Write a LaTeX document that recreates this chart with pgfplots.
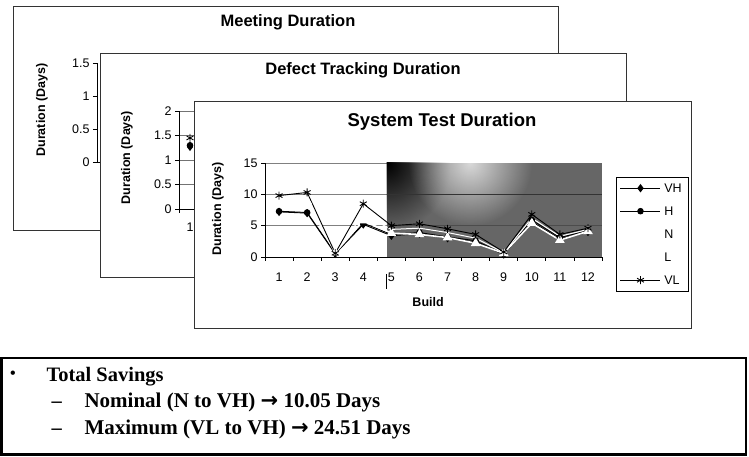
\documentclass[border=0pt]{standalone}
\usepackage{pgfplots}
\pgfplotsset{compat=1.18}
\usetikzlibrary{fadings}
\usepackage{fontspec}
\setmainfont{Liberation Sans}
\newfontfamily\tnr{Liberation Serif}
\newfontfamily\dvs{DejaVu Sans}

\tikzfading[name=softspot, inner color=transparent!0, outer color=transparent!100]

\pgfplotsset{
  /pgf/number format/assume math mode=true,
  tick label style={font=\fontsize{12.5}{14}\selectfont},
  label style={font=\bfseries\fontsize{12.5}{14}\selectfont},
}

\begin{document}
\begin{tikzpicture}[x=1pt,y=1pt]
\useasboundingbox (0,0) rectangle (749,457);
% ---------------- Meeting Duration (back) ----------------
\filldraw[fill=white, draw=black!80, line width=0.9pt] (13,451) rectangle (558,227);
\node[font=\bfseries\fontsize{16.5}{18}\selectfont] at (288,434.3) {Meeting Duration};
\node[rotate=90, font=\bfseries\fontsize{12.5}{14}\selectfont] at (42,347) {Duration (Days)};
\begin{axis}[at={(97pt,295pt)}, anchor=south west, scale only axis, width=300pt, height=99pt,
  xmin=0.5, xmax=12.5, ymin=0, ymax=1.5, axis lines*=left, xtick=\empty, ytick={0,0.5,1,1.5},
  tick align=outside, major tick length=4pt, tick style={black, line width=0.8pt},
  axis line style={black, line width=0.8pt}]
\end{axis}
% ---------------- Defect Tracking Duration (middle) ----------------
\filldraw[fill=white, draw=black!80, line width=0.9pt] (100,404) rectangle (626,180);
\node[font=\bfseries\fontsize{16.5}{18}\selectfont] at (363,387) {Defect Tracking Duration};
\node[rotate=90, font=\bfseries\fontsize{12.5}{14}\selectfont] at (127,299.5) {Duration (Days)};
\begin{axis}[at={(179pt,248pt)}, anchor=south west, scale only axis, width=264pt, height=98pt,
  xmin=0.5, xmax=12.5, ymin=0, ymax=2, axis lines*=left,
  xtick={0.5,1.5,...,12.5}, x tick label as interval, xticklabels={1},
  xticklabel style={yshift=-6pt},
  ytick={0,0.5,1,1.5,2}, ymajorgrids, grid style={black!55, line width=0.6pt},
  tick align=outside, major tick length=4pt, tick style={black, line width=0.8pt},
  axis line style={black, line width=0.8pt}]
\addplot[black, line width=0.9pt, mark=diamond*, mark size=3.5pt] coordinates {(1,1.27)};
\addplot[black, line width=0.9pt, mark=*, mark size=2.8pt] coordinates {(1,1.30)};
\addplot[black, line width=0.9pt, mark=asterisk, mark size=4pt] coordinates {(1,1.45)};
\end{axis}
% ---------------- System Test Duration (front) ----------------
\filldraw[fill=white, draw=black!80, line width=0.9pt] (194,356) rectangle (691,129);
\node[font=\bfseries\fontsize{18.5}{20}\selectfont] at (442,335.3) {System Test Duration};
\begin{axis}[at={(265pt,200pt)}, anchor=south west, scale only axis, width=337pt, height=94pt,
  xmin=0.5, xmax=12.5, ymin=0, ymax=15,
  axis lines*=left, axis line style={black, line width=0.8pt},
  xtick={0.5,1.5,...,12.5}, x tick label as interval,
  xticklabels={1,2,3,4,5,6,7,8,9,10,11,12},
  xticklabel style={yshift=-8pt},
  ytick={0,5,10,15}, tick align=outside, major tick length=4pt,
  tick style={black, line width=0.8pt},
  ymajorgrids, grid style={black!50, line width=0.6pt},
  xlabel={Build}, ylabel={Duration (Days)},
  xlabel style={at={(axis description cs:0.484,-0.479)}, anchor=center},
  ylabel style={at={(axis description cs:-0.1395,0.51)}, anchor=center},
  legend style={at={(1.0415,0.851)}, anchor=north west, draw=black, fill=white,
    inner sep=3.5pt, row sep=8pt,
    nodes={inner sep=3pt, text height=9pt, text depth=0pt},
    font=\fontsize{12.5}{14}\selectfont},
  legend cell align=left,
  legend image code/.code={\draw[mark repeat=2,mark phase=2] plot coordinates {(0pt,0pt) (20pt,0pt) (40pt,0pt)};},
]
% background shading of the right part of the plot area
\fill[black!60] (axis cs:4.83,0) rectangle (axis cs:12.5,15);
\begin{scope}
\clip (axis cs:4.83,0) rectangle (axis cs:12.5,15);
\fill[black, path fading=softspot] (axis cs:2.6,4) rectangle (axis cs:7.1,26);
\fill[white, fill opacity=0.75, path fading=softspot] (axis cs:5.6,5) rectangle (axis cs:10.0,25);
\end{scope}
\draw[black!80, line width=0.6pt] (axis cs:4.83,10) -- (axis cs:12.5,10);
\draw[black!70, line width=0.6pt] (axis cs:4.83,5) -- (axis cs:12.5,5);
\draw[black, line width=0.8pt] (axis cs:0.5,0) -- (axis cs:12.5,0);
% data
\addplot[black, line width=0.9pt, mark=diamond*, mark size=3.5pt] coordinates {
 (1,7.2) (2,7.0) (3,0.5) (4,5.2) (5,3.4) (6,3.7) (7,3.0) (8,2.4) (9,0.4) (10,5.6) (11,2.9) (12,4.0)};
\addlegendentry{VH}
\addplot[black, line width=0.9pt, mark=*, mark size=2.8pt] coordinates {
 (1,7.3) (2,7.1) (3,0.6) (4,5.4) (5,3.6) (6,3.9) (7,3.2) (8,2.6) (9,0.5) (10,5.9) (11,3.1) (12,4.2)};
\addlegendentry{H}
\addplot[white, line width=1.6pt, mark=triangle*, mark size=4pt] coordinates {
 (1,8.6) (2,8.9) (3,0.7) (4,5.8) (5,3.8) (6,3.6) (7,3.1) (8,2.2) (9,0.6) (10,5.4) (11,2.7) (12,4.1)};
\addlegendentry{N}
\addplot[white, line width=1.0pt, mark=none] coordinates {
 (1,9.2) (2,9.6) (3,0.7) (4,6.8) (5,4.4) (6,4.6) (7,3.9) (8,3.0) (9,0.7) (10,6.2) (11,3.3) (12,4.4)};
\addlegendentry{L}
\addplot[black, line width=0.9pt, mark=asterisk, mark size=4pt] coordinates {
 (1,9.8) (2,10.3) (3,0.6) (4,8.5) (5,5.0) (6,5.3) (7,4.5) (8,3.6) (9,0.8) (10,6.8) (11,3.6) (12,4.6)};
\addlegendentry{VL}
\end{axis}
\draw[black, line width=0.8pt] (386.7,183) -- (386.7,168);
% ---------------- Text box ----------------
\draw[black, line width=2.5pt] (1.5,99) rectangle (746,2.5);
\node[font=\tnr\bfseries\fontsize{16}{18}\selectfont] at (13,82) {•};
\node[anchor=base west, font=\tnr\bfseries\fontsize{20.5}{24}\selectfont] at (43,75) {Total Savings};
\node[anchor=base west, font=\tnr\bfseries\fontsize{20.5}{24}\selectfont] at (48,49) {–};
\node[anchor=base west, font=\tnr\bfseries\fontsize{21}{24}\selectfont] at (81,49) {Nominal (N to VH) {\dvs\bfseries →} 10.05 Days};
\node[anchor=base west, font=\tnr\bfseries\fontsize{20.5}{24}\selectfont] at (48,22) {–};
\node[anchor=base west, font=\tnr\bfseries\fontsize{21}{24}\selectfont] at (81,22) {Maximum (VL to VH) {\dvs\bfseries →} 24.51 Days};
\end{tikzpicture}
\end{document}
